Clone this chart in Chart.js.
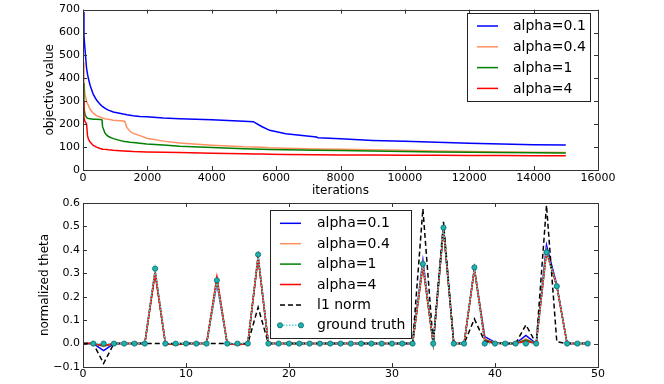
<!DOCTYPE html>
<html>
<head>
<meta charset="utf-8">
<script src="https://cdn.jsdelivr.net/npm/chart.js@4.4.0/dist/chart.umd.min.js"></script>
<style>
  html, body { margin: 0; padding: 0; background: #fff; }
  #wrap { position: relative; width: 664px; height: 384px; }
  canvas { position: absolute; left: 0; top: 0; }
</style>
</head>
<body>
<div id="wrap">
  <canvas id="topChart" width="664" height="384"></canvas>
  <canvas id="bottomChart" width="664" height="384"></canvas>
</div>
<script>
// ---- top panel: objective value vs iterations ----
const iterations = [0, 30, 60, 110, 140, 170, 220, 320, 420, 530, 590, 610, 680, 740, 790, 940,
  1250, 1300, 1360, 1460, 1560, 1770, 1980, 2500, 3000, 4000, 5000, 5290, 5550, 5800, 6300,
  7250, 7300, 8000, 9000, 10000, 11000, 12000, 13000, 14000, 15000];

const objAlpha01 = [690, 586, 530, 445, 418, 398, 370, 330, 305, 287, 279, 277, 270, 265, 261, 253,
  244, 243, 241, 239, 237, 234, 232, 227, 224, 219, 213, 211, 190, 173, 158,
  144, 141, 136, 129, 125, 121, 117, 113, 110, 109];
const objAlpha04 = [470, 380, 332, 300, 290, 281, 265, 248, 237, 231, 228, 227, 224, 222, 221, 217,
  214, 212, 186, 169, 160, 150, 139, 126, 118, 108, 101, 100, 99, 97, 95,
  92, 92, 91, 88, 86, 83, 81, 79, 77, 76];
const objAlpha1 = [380, 272, 243, 229, 226, 225, 224, 222, 221, 220, 219, 188, 162, 152, 146, 137,
  125, 124, 123, 121, 120, 117, 114, 109, 104, 98, 93, 92, 91, 90, 88,
  86, 86, 85, 83, 81, 79, 78, 76, 75, 74];
const objAlpha4 = [300, 229, 212, 202, 150, 134, 122, 107, 100, 94, 92, 91, 90, 89, 88, 86,
  83, 83, 82, 82, 81, 80, 79, 77, 76, 73, 71, 70, 70, 69, 68,
  67, 67, 66, 65, 64, 64, 63, 63, 62, 62];

// ---- bottom panel: normalized theta per coefficient ----
const coefIndex = [0, 1, 2, 3, 4, 5, 6, 7, 8, 9, 10, 11, 12, 13, 14, 15, 16, 17, 18, 19,
  20, 21, 22, 23, 24, 25, 26, 27, 28, 29, 30, 31, 32, 33, 34, 35, 36, 37, 38, 39,
  40, 41, 42, 43, 44, 45, 46, 47, 48, 49];

const thetaAlpha01 = [0, 0, -0.03, 0, 0, 0, 0, 0.31, 0, -0.003, 0, 0, 0, 0.26, 0, -0.003, 0, 0.37, 0, 0,
  0, 0, 0, 0, 0, 0, 0, 0, 0, 0, 0, 0, 0, 0.355, 0, 0.49, 0, 0, 0.32, 0.03,
  0.005, 0, 0, 0.035, 0, 0.42, 0.25, 0, 0, 0];
const thetaAlpha04 = [0, 0, -0.012, 0, 0, 0, 0, 0.31, 0, -0.004, 0, 0, 0, 0.27, 0, -0.004, 0, 0.37, 0, 0,
  0, 0, 0, 0, 0, 0, 0, 0, 0, 0, 0, 0, 0, 0.34, 0, 0.49, 0, 0, 0.32, 0.02,
  0.003, 0, 0, 0.02, 0, 0.40, 0.245, 0, 0, 0];
const thetaAlpha1 = [0, 0, -0.01, 0, 0, 0, 0, 0.305, 0, -0.005, 0, 0, 0, 0.275, 0, -0.005, 0, 0.37, 0, 0,
  0, 0, 0, 0, 0, 0, 0, 0, 0, 0, 0, 0, 0, 0.335, 0, 0.49, 0, 0, 0.32, 0.015,
  0.002, 0, 0, 0.015, 0, 0.395, 0.245, 0, 0, 0];
const thetaAlpha4 = [0, 0, -0.008, 0, 0, 0, 0, 0.30, 0, -0.005, 0, 0, 0, 0.285, 0, -0.005, 0, 0.37, 0, 0,
  0, 0, 0, 0, 0, 0, 0, 0, 0, 0, 0, 0, 0, 0.33, 0, 0.49, 0, 0, 0.32, 0.012,
  0, 0, 0, 0.01, 0, 0.39, 0.245, 0, 0, 0];
const thetaL1 = [0, 0, -0.085, 0, 0, 0, 0, 0, 0, 0, 0, 0, 0, 0, 0, 0, 0, 0.155, 0, 0,
  0, 0, 0, 0, 0, 0, 0, 0, 0, 0, 0, 0, 0, 0.575, 0, 0.52, 0, 0, 0.105, 0.01,
  0, 0, 0, 0.08, 0, 0.59, 0.008, 0, 0, 0];
// ground truth starts at coefficient 1
const truthIndex = coefIndex.slice(1);
const thetaTruth = [0, 0, 0, 0, 0, 0, 0.32, 0, 0, 0, 0, 0, 0.27, 0, 0, 0, 0.38, 0, 0,
  0, 0, 0, 0, 0, 0, 0, 0, 0, 0, 0, 0, 0, 0.34, 0, 0.495, 0, 0, 0.325, 0,
  0, 0, 0, 0, 0, 0.39, 0.245, 0, 0, 0];

const seriesLabels = ["alpha=0.1", "alpha=0.4", "alpha=1", "alpha=4"];
const seriesColors = ["#0000ff", "#ff9060", "#008000", "#ff0000"];

const FONT = "'DejaVu Sans', sans-serif";
Chart.defaults.font.family = FONT;
Chart.defaults.color = "#000";

function pts(xs, ys) {
  return ys.map((y, i) => ({ x: xs[i], y: y }));
}

// frame + inward ticks on all four sides, like matplotlib classic
const frameTicks = {
  id: "frameTicks",
  afterDatasetsDraw(chart) {
    const { ctx, chartArea: a, scales } = chart;
    const len = 4;
    ctx.save();
    ctx.strokeStyle = "#333";
    ctx.lineWidth = 1;
    ctx.beginPath();
    scales.x.ticks.forEach(t => {
      const px = Math.round(scales.x.getPixelForValue(t.value)) + 0.5;
      ctx.moveTo(px, a.bottom); ctx.lineTo(px, a.bottom - len);
      ctx.moveTo(px, a.top); ctx.lineTo(px, a.top + len);
    });
    scales.y.ticks.forEach(t => {
      const py = Math.round(scales.y.getPixelForValue(t.value)) + 0.5;
      ctx.moveTo(a.left, py); ctx.lineTo(a.left + len, py);
      ctx.moveTo(a.right, py); ctx.lineTo(a.right - len, py);
    });
    ctx.stroke();
    ctx.strokeRect(Math.round(a.left) + 0.5, Math.round(a.top) + 0.5,
      Math.round(a.right - a.left), Math.round(a.bottom - a.top));
    ctx.restore();
  }
};

// boxed legend placed inside the axes
const boxLegend = {
  id: "boxLegend",
  afterDraw(chart, args, o) {
    const { ctx } = chart;
    ctx.save();
    ctx.fillStyle = "#fff";
    ctx.fillRect(o.x, o.y, o.w, o.h);
    ctx.strokeStyle = "#222";
    ctx.lineWidth = 1;
    ctx.strokeRect(o.x + 0.5, o.y + 0.5, o.w, o.h);
    ctx.font = "14px " + FONT;
    ctx.textBaseline = "middle";
    ctx.textAlign = "left";
    chart.data.datasets.forEach((ds, i) => {
      const cy = o.y + o.first + i * o.rowH;
      const x0 = o.x + o.lineX, x1 = x0 + o.lineW;
      ctx.strokeStyle = ds.borderColor;
      ctx.lineWidth = ds.borderWidth;
      ctx.setLineDash(ds.borderDash || []);
      ctx.beginPath();
      ctx.moveTo(x0, cy); ctx.lineTo(x1, cy);
      ctx.stroke();
      ctx.setLineDash([]);
      if (ds.pointRadius > 0) {
        [x0, x1].forEach(px => {
          ctx.beginPath();
          ctx.arc(px, cy, ds.pointRadius, 0, Math.PI * 2);
          ctx.fillStyle = ds.pointBackgroundColor;
          ctx.fill();
          ctx.lineWidth = ds.pointBorderWidth;
          ctx.strokeStyle = ds.pointBorderColor;
          ctx.stroke();
        });
      }
      ctx.fillStyle = "#000";
      ctx.fillText(ds.label, o.x + o.textX, cy + 0.5);
    });
    ctx.restore();
  }
};

function lineSet(label, color, data, order) {
  return { label, data, borderColor: color, backgroundColor: color, borderWidth: 1.5,
    pointRadius: 0, tension: 0, fill: false, order };
}

const tickFont = { family: FONT, size: 11 };
const titleFont = { family: FONT, size: 12 };

// top chart
new Chart(document.getElementById("topChart"), {
  type: "line",
  plugins: [frameTicks, boxLegend],
  data: {
    datasets: [
      lineSet(seriesLabels[0], seriesColors[0], pts(iterations, objAlpha01), 3),
      lineSet(seriesLabels[1], seriesColors[1], pts(iterations, objAlpha04), 2),
      lineSet(seriesLabels[2], seriesColors[2], pts(iterations, objAlpha1), 1),
      lineSet(seriesLabels[3], seriesColors[3], pts(iterations, objAlpha4), 0),
    ]
  },
  options: {
    responsive: false,
    animation: false,
    layout: { padding: { left: 0, right: 66, top: 7, bottom: 184 } },
    plugins: {
      legend: { display: false },
      tooltip: { enabled: false },
      boxLegend: { x: 467, y: 13, w: 123, h: 88, first: 13, rowH: 20.8, lineX: 10, lineW: 21, textX: 46 }
    },
    scales: {
      x: {
        type: "linear", min: 0, max: 16000,
        grid: { display: false, drawTicks: false },
        border: { display: false },
        ticks: { stepSize: 2000, font: tickFont, padding: 2, maxRotation: 0,
          callback: v => String(v) },
        title: { display: true, text: "iterations", font: titleFont, padding: { top: 0, bottom: 1.8 } },
        afterFit: s => { s.height = 30; }
      },
      y: {
        min: 0, max: 700,
        grid: { display: false, drawTicks: false },
        border: { display: false },
        ticks: { stepSize: 100, font: tickFont, padding: 3, callback: v => String(v) },
        title: { display: true, text: "objective value", font: titleFont, padding: { top: 42.8, bottom: 0 } },
        afterFit: s => { s.width = 83; }
      }
    }
  }
});

// bottom chart
const truthSet = {
  label: "ground truth",
  data: pts(truthIndex, thetaTruth),
  borderColor: "#5fd6d6",
  borderWidth: 1.5,
  borderDash: [1.5, 1.5],
  pointRadius: 2.6,
  pointBackgroundColor: "#1fb0b0",
  pointBorderColor: "#0d6b6b",
  pointBorderWidth: 0.8,
  tension: 0,
  order: 0
};
const l1Set = Object.assign(lineSet("l1 norm", "#000000", pts(coefIndex, thetaL1), 1), { borderDash: [5, 3] });

function thetaTick(v) {
  const r = Math.round(v * 10) / 10;
  return (Math.abs(r) < 1e-9 ? 0 : r).toFixed(1).replace("-", "\u2212");
}

new Chart(document.getElementById("bottomChart"), {
  type: "line",
  plugins: [frameTicks, boxLegend],
  data: {
    datasets: [
      lineSet(seriesLabels[0], seriesColors[0], pts(coefIndex, thetaAlpha01), 5),
      lineSet(seriesLabels[1], seriesColors[1], pts(coefIndex, thetaAlpha04), 4),
      lineSet(seriesLabels[2], seriesColors[2], pts(coefIndex, thetaAlpha1), 3),
      lineSet(seriesLabels[3], seriesColors[3], pts(coefIndex, thetaAlpha4), 2),
      l1Set,
      truthSet
    ]
  },
  options: {
    responsive: false,
    animation: false,
    layout: { padding: { left: 0, right: 66, top: 203, bottom: 0 } },
    plugins: {
      legend: { display: false },
      tooltip: { enabled: false },
      boxLegend: { x: 270, y: 210, w: 141, h: 128, first: 13.3, rowH: 20.4, lineX: 10, lineW: 21, textX: 47 }
    },
    scales: {
      x: {
        type: "linear", min: 0, max: 50,
        grid: { display: false, drawTicks: false },
        border: { display: false },
        ticks: { stepSize: 10, font: tickFont, padding: 1, maxRotation: 0 },
        afterFit: s => { s.height = 17; }
      },
      y: {
        min: -0.1, max: 0.6,
        grid: { display: false, drawTicks: false },
        border: { display: false },
        ticks: { stepSize: 0.1, font: tickFont, padding: 3, callback: thetaTick },
        title: { display: true, text: "normalized theta", font: titleFont, padding: { top: 37.8, bottom: 0 } },
        afterFit: s => { s.width = 83; }
      }
    }
  }
});
</script>
</body>
</html>
